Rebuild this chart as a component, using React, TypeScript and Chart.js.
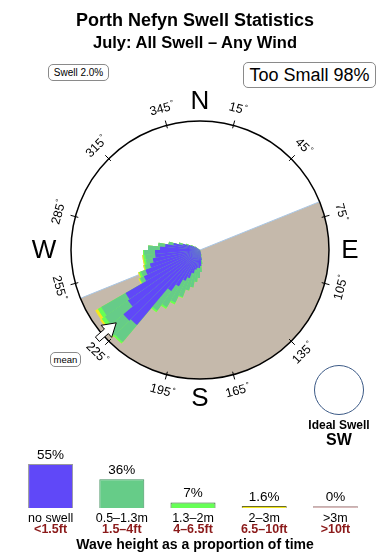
import React, { useEffect, useRef } from "react";
import { Chart, registerables } from "chart.js";

Chart.register(...registerables);

const FONT = '"Liberation Sans", Arial, Helvetica, sans-serif';

// ---------- Swell rose data (5° direction bins, listed from 165° to 300°) ----------
const BIN_DEG = 5;
const FIRST_BIN_DEG = 165;
const NO_SWELL = [0.5, 1.0, 1.6, 1.8, 1.8, 2.0, 2.4, 3.0, 3.4, 4.2, 5.0, 9.8, 10.0, 8.8, 8.6, 6.2, 5.8, 5.2, 4.8, 4.5, 4.5, 4.0, 3.5, 2.7, 1.8, 1.2, 0.8, 0.5];
const SWELL_05_13 = [0.1, 0.4, 0.6, 1.0, 1.4, 1.8, 1.8, 2.0, 2.4, 2.4, 2.4, 2.2, 2.1, 2.8, 2.8, 0.4, 0.5, 0.5, 0.7, 1.0, 1.1, 1.2, 0.7, 0.5, 0.4, 0.3, 0.2, 0.1];
const SWELL_13_2 = [0, 0, 0, 0, 0, 0, 0, 0.1, 0.2, 0.2, 0.2, 0.2, 0.2, 0.4, 0.4, 0.1, 0.2, 0.1, 0.2, 0.2, 0.1, 0, 0, 0, 0, 0, 0, 0];
const SWELL_2_3 = [0, 0, 0, 0, 0, 0, 0, 0, 0, 0, 0, 0, 0.1, 0.2, 0.3, 0.1, 0.1, 0.1, 0.1, 0.1, 0, 0, 0, 0, 0, 0, 0, 0];
const SWELL_3_PLUS = [0, 0, 0, 0, 0, 0, 0, 0, 0, 0, 0, 0, 0, 0, 0, 0, 0, 0, 0, 0, 0, 0, 0, 0, 0, 0, 0, 0];
const R_MAX = 12.9;

const LAND_FROM_DEG = 68;
const LAND_TO_DEG = 248;
const MEAN_DIR_DEG = 229;
const DEGREE_TICKS = [15, 45, 75, 105, 135, 165, 195, 225, 255, 285, 315, 345];
const COMPASS = [
  { t: "N", deg: 0, r: 149 },
  { t: "E", deg: 90, r: 150 },
  { t: "S", deg: 180, r: 148 },
  { t: "W", deg: 270, r: 156 },
];

// ---------- Height-class legend data ----------
const SIZE_CLASSES = ["no swell", "0.5–1.3m", "1.3–2m", "2–3m", ">3m"];
const SIZE_FEET = ["<1.5ft", "1.5–4ft", "4–6.5ft", "6.5–10ft", ">10ft"];
const SIZE_SHARE = [55, 36, 7, 1.6, 0];

const CLASS_FILL = ["#6048f8", "#66cc88", "#66ff55", "#f4e81c", "#d8b8b8"];
const CLASS_BORDER = ["#9a9a9a", "#3f8f5c", "#2f5f2f", "#6b6b2a", "#c4b0b0"];
const LAND_COLOR = "#c5b9ab";

const N_BINS = 360 / BIN_DEG;
const rad = (d: number) => (d * Math.PI) / 180;

function fullBins(arr: number[]) {
  const out = new Array(N_BINS).fill(0);
  const off = FIRST_BIN_DEG / BIN_DEG;
  arr.forEach((v, i) => (out[off + i] = v));
  return out;
}

function cumulative(series: number[][]) {
  const res: number[][] = [];
  let acc = new Array(N_BINS).fill(0);
  series.forEach((s) => {
    const f = fullBins(s);
    acc = acc.map((a, i) => +(a + f[i]).toFixed(2));
    res.push(acc.slice());
  });
  return res;
}

const roseDecor = {
  id: "roseDecor",
  beforeDatasetsDraw(chart: any) {
    const s = chart.scales.r;
    const ctx = chart.ctx;
    const cx = s.xCenter, cy = s.yCenter;
    const R = s.getDistanceFromCenterForValue(R_MAX);
    ctx.save();
    ctx.beginPath();
    ctx.moveTo(cx, cy);
    ctx.arc(cx, cy, R, rad(LAND_FROM_DEG - 90), rad(LAND_TO_DEG - 90));
    ctx.closePath();
    ctx.fillStyle = LAND_COLOR;
    ctx.fill();
    ctx.beginPath();
    ctx.moveTo(cx + R * Math.cos(rad(LAND_FROM_DEG - 90)), cy + R * Math.sin(rad(LAND_FROM_DEG - 90)));
    ctx.lineTo(cx + R * Math.cos(rad(LAND_TO_DEG - 90)), cy + R * Math.sin(rad(LAND_TO_DEG - 90)));
    ctx.strokeStyle = "#a9c6e4";
    ctx.lineWidth = 1;
    ctx.stroke();
    ctx.restore();
  },
  afterDatasetsDraw(chart: any) {
    const s = chart.scales.r;
    const ctx = chart.ctx;
    const cx = s.xCenter, cy = s.yCenter;
    const R = s.getDistanceFromCenterForValue(R_MAX);
    const pt = (deg: number, r: number) => [cx + r * Math.sin(rad(deg)), cy - r * Math.cos(rad(deg))];
    ctx.save();
    // outer circle
    ctx.beginPath();
    ctx.arc(cx, cy, R, 0, Math.PI * 2);
    ctx.strokeStyle = "#000";
    ctx.lineWidth = 1.5;
    ctx.stroke();
    // ticks + labels
    ctx.lineWidth = 1;
    DEGREE_TICKS.forEach((d) => {
      const [x1, y1] = pt(d, R - 3);
      const [x2, y2] = pt(d, R + 5);
      ctx.beginPath();
      ctx.moveTo(x1, y1);
      ctx.lineTo(x2, y2);
      ctx.stroke();
      const [lx, ly] = pt(d, R + 17);
      let rot = d > 90 && d < 270 ? d - 180 : d > 270 ? d - 360 : d;
      ctx.save();
      ctx.translate(lx, ly);
      ctx.rotate(rad(rot));
      ctx.fillStyle = "#000";
      ctx.font = `12.5px ${FONT}`;
      ctx.textBaseline = "middle";
      const txt = String(d);
      const w = ctx.measureText(txt).width;
      ctx.textAlign = "left";
      ctx.fillText(txt, -w / 2 - 2, 0);
      ctx.font = `8px ${FONT}`;
      ctx.fillText("°", w / 2 - 1, -3);
      ctx.restore();
    });
    // compass letters
    ctx.fillStyle = "#000";
    ctx.font = `26px ${FONT}`;
    ctx.textAlign = "center";
    ctx.textBaseline = "middle";
    COMPASS.forEach((c) => {
      const [x, y] = pt(c.deg, c.r);
      ctx.fillText(c.t, x, y + 1);
    });
    // mean arrow (points towards centre)
    const d = MEAN_DIR_DEG;
    const ux = -Math.sin(rad(d)), uy = Math.cos(rad(d)); // inward unit vector
    const px = -uy, py = ux; // perpendicular
    const [tx, ty] = pt(d, R - 18);
    const hl = 13, hw = 8, sw = 3, tail = 25;
    const P = (a: number, b: number) => [tx - ux * a + px * b, ty - uy * a + py * b];
    const poly = [P(0, 0), P(hl, hw), P(hl, sw), P(tail, sw), P(tail, -sw), P(hl, -sw), P(hl, -hw)];
    ctx.beginPath();
    poly.forEach(([x, y], i) => (i ? ctx.lineTo(x, y) : ctx.moveTo(x, y)));
    ctx.closePath();
    ctx.fillStyle = "#fff";
    ctx.fill();
    ctx.strokeStyle = "#000";
    ctx.lineWidth = 1;
    ctx.stroke();
    ctx.restore();
  },
};

const legendDecor = {
  id: "legendDecor",
  afterDatasetsDraw(chart: any) {
    const ctx = chart.ctx;
    const x = chart.scales.x;
    const meta = chart.getDatasetMeta(0);
    const bottom = chart.chartArea.bottom;
    ctx.save();
    ctx.textAlign = "center";
    ctx.textBaseline = "middle";
    meta.data.forEach((bar: any, i: number) => {
      ctx.fillStyle = "#000";
      ctx.font = `13.5px ${FONT}`;
      ctx.fillText(`${SIZE_SHARE[i]}%`, bar.x, Math.min(bar.y, bottom - 2) - 9);
      const cxp = x.getPixelForValue(i);
      ctx.font = `12.5px ${FONT}`;
      ctx.fillText(SIZE_CLASSES[i], cxp, bottom + 10.5);
      ctx.fillStyle = "#8b1a1a";
      ctx.font = `bold 12.5px ${FONT}`;
      ctx.fillText(SIZE_FEET[i], cxp, bottom + 22);
    });
    ctx.fillStyle = "#000";
    ctx.font = `bold 14px ${FONT}`;
    ctx.fillText("Wave height as a proportion of time", 195, bottom + 37.5);
    ctx.restore();
  },
};

function Text(props: { x: number; y: number; children: any; style?: any }) {
  return (
    <div
      style={{
        position: "absolute",
        left: props.x,
        top: props.y,
        transform: "translate(-50%, -50%)",
        whiteSpace: "nowrap",
        fontFamily: FONT,
        color: "#000",
        lineHeight: 1,
        ...props.style,
      }}
    >
      {props.children}
    </div>
  );
}

function Box(props: { x: number; y: number; w: number; h: number; size: number; children: any }) {
  return (
    <div
      style={{
        position: "absolute",
        left: props.x,
        top: props.y,
        width: props.w,
        height: props.h,
        boxSizing: "border-box",
        border: "1px solid #8a8a8a",
        borderRadius: 5,
        fontFamily: FONT,
        fontSize: props.size,
        display: "flex",
        alignItems: "center",
        justifyContent: "center",
        whiteSpace: "nowrap",
        color: "#000",
        background: "#fff",
      }}
    >
      {props.children}
    </div>
  );
}

export default function App() {
  const roseRef = useRef<HTMLCanvasElement>(null);
  const barRef = useRef<HTMLCanvasElement>(null);

  useEffect(() => {
    const cum = cumulative([NO_SWELL, SWELL_05_13, SWELL_13_2, SWELL_2_3, SWELL_3_PLUS]);
    const labels = Array.from({ length: N_BINS }, (_, i) => `${i * BIN_DEG + BIN_DEG / 2}°`);
    const rose = new Chart(roseRef.current!, {
      type: "polarArea",
      data: {
        labels,
        datasets: SIZE_CLASSES.map((name, k) => ({
          label: name,
          data: cum[k],
          backgroundColor: CLASS_FILL[k],
          borderWidth: 0,
        })),
      },
      options: {
        responsive: false,
        animation: false,
        layout: { padding: { left: 71, top: 121, right: 61, bottom: 181 } },
        plugins: { legend: { display: false }, tooltip: { enabled: false } },
        scales: {
          r: {
            min: 0,
            max: R_MAX,
            startAngle: 0,
            ticks: { display: false },
            grid: { display: false },
            angleLines: { display: false },
            pointLabels: { display: false },
          },
        },
      } as any,
      plugins: [roseDecor],
    });

    const bars = new Chart(barRef.current!, {
      type: "bar",
      data: {
        labels: SIZE_CLASSES,
        datasets: [
          {
            data: SIZE_SHARE,
            backgroundColor: CLASS_FILL,
            borderColor: CLASS_BORDER,
            borderWidth: 1,
            barPercentage: 0.632,
            categoryPercentage: 1,
            minBarLength: 2,
          },
        ],
      },
      options: {
        responsive: false,
        animation: false,
        layout: { padding: { left: 15, right: 19, top: 22, bottom: 52 } },
        plugins: { legend: { display: false }, tooltip: { enabled: false } },
        scales: {
          x: { display: false },
          y: { display: false, min: 0, max: 70 },
        },
      } as any,
      plugins: [legendDecor],
    });

    return () => {
      rose.destroy();
      bars.destroy();
    };
  }, []);

  return (
    <div style={{ position: "absolute", left: 0, top: 0, width: 390, height: 560, background: "#fff", overflow: "hidden" }}>
      <canvas ref={roseRef} width={390} height={560} style={{ position: "absolute", left: 0, top: 0 }} />
      <canvas ref={barRef} width={390} height={130} style={{ position: "absolute", left: 0, top: 430 }} />
      <Text x={195} y={20} style={{ fontSize: 18, fontWeight: "bold" }}>Porth Nefyn Swell Statistics</Text>
      <Text x={195} y={42} style={{ fontSize: 16.5, fontWeight: "bold" }}>July: All Swell – Any Wind</Text>
      <Box x={48} y={64} w={61} h={17} size={10}>Swell 2.0%</Box>
      <Box x={243} y={62} w={133} h={26} size={18}>Too Small 98%</Box>
      <Box x={50} y={352} w={31} h={15} size={9.5}>mean</Box>
      <div
        style={{
          position: "absolute",
          left: 314,
          top: 365,
          width: 50,
          height: 50,
          boxSizing: "border-box",
          border: "1px solid #3c5a86",
          borderRadius: "50%",
        }}
      />
      <Text x={339} y={425} style={{ fontSize: 12, fontWeight: "bold" }}>Ideal Swell</Text>
      <Text x={339} y={440} style={{ fontSize: 16, fontWeight: "bold" }}>SW</Text>
    </div>
  );
}
